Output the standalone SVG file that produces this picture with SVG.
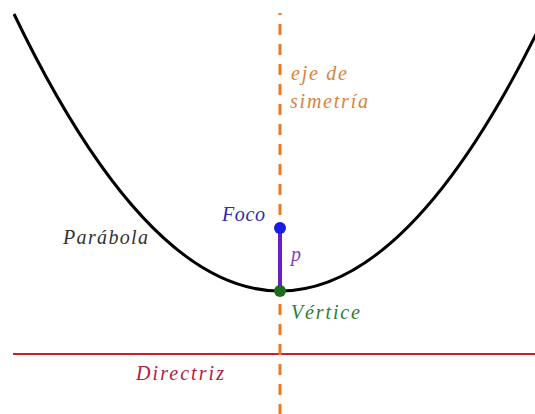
<svg xmlns="http://www.w3.org/2000/svg" width="535" height="414" viewBox="0 0 535 414">
<style>
.lbl{font-family:"Liberation Serif","DejaVu Serif",serif;font-style:italic;font-size:20px}
</style>
<rect width="535" height="414" fill="#ffffff"/>
<g id="connectors">
<line id="directriz-line" x1="13" y1="354" x2="535" y2="354" stroke="#cc1f1f" stroke-width="2"/>
<line id="eje" x1="280" y1="13" x2="280" y2="414" stroke="#e8792b" stroke-width="3" stroke-dasharray="11 9" stroke-dashoffset="9"/>
<line id="p-seg" x1="280" y1="228" x2="280" y2="291" stroke="#6a1fc4" stroke-width="4"/>
</g>
<g id="parabola">
<path d="M14,14 Q280,568 546,14" fill="none" stroke="#000" stroke-width="3"/>
<text class="lbl" x="63" y="244" fill="#333" textLength="85" lengthAdjust="spacing">Parábola</text>
</g>
<g id="eje-label">
<text class="lbl" x="291" y="80" fill="#d9823f" textLength="56" lengthAdjust="spacing">eje de</text>
<text class="lbl" x="290" y="108" fill="#d9823f" textLength="78" lengthAdjust="spacing">simetría</text>
</g>
<g id="foco">
<circle cx="280" cy="228" r="6" fill="#1a1ae8"/>
<text class="lbl" x="222" y="221" fill="#2a2aa8" textLength="43" lengthAdjust="spacing">Foco</text>
</g>
<g id="p-label">
<text class="lbl" x="291" y="261" fill="#8040c0">p</text>
</g>
<g id="vertice">
<circle cx="280" cy="291" r="6" fill="#1e6b1e"/>
<text class="lbl" x="291" y="319" fill="#2e7d32" textLength="69" lengthAdjust="spacing">Vértice</text>
</g>
<g id="directriz">
<text class="lbl" x="136" y="380" fill="#b3203f" textLength="88" lengthAdjust="spacing">Directriz</text>
</g>
</svg>
